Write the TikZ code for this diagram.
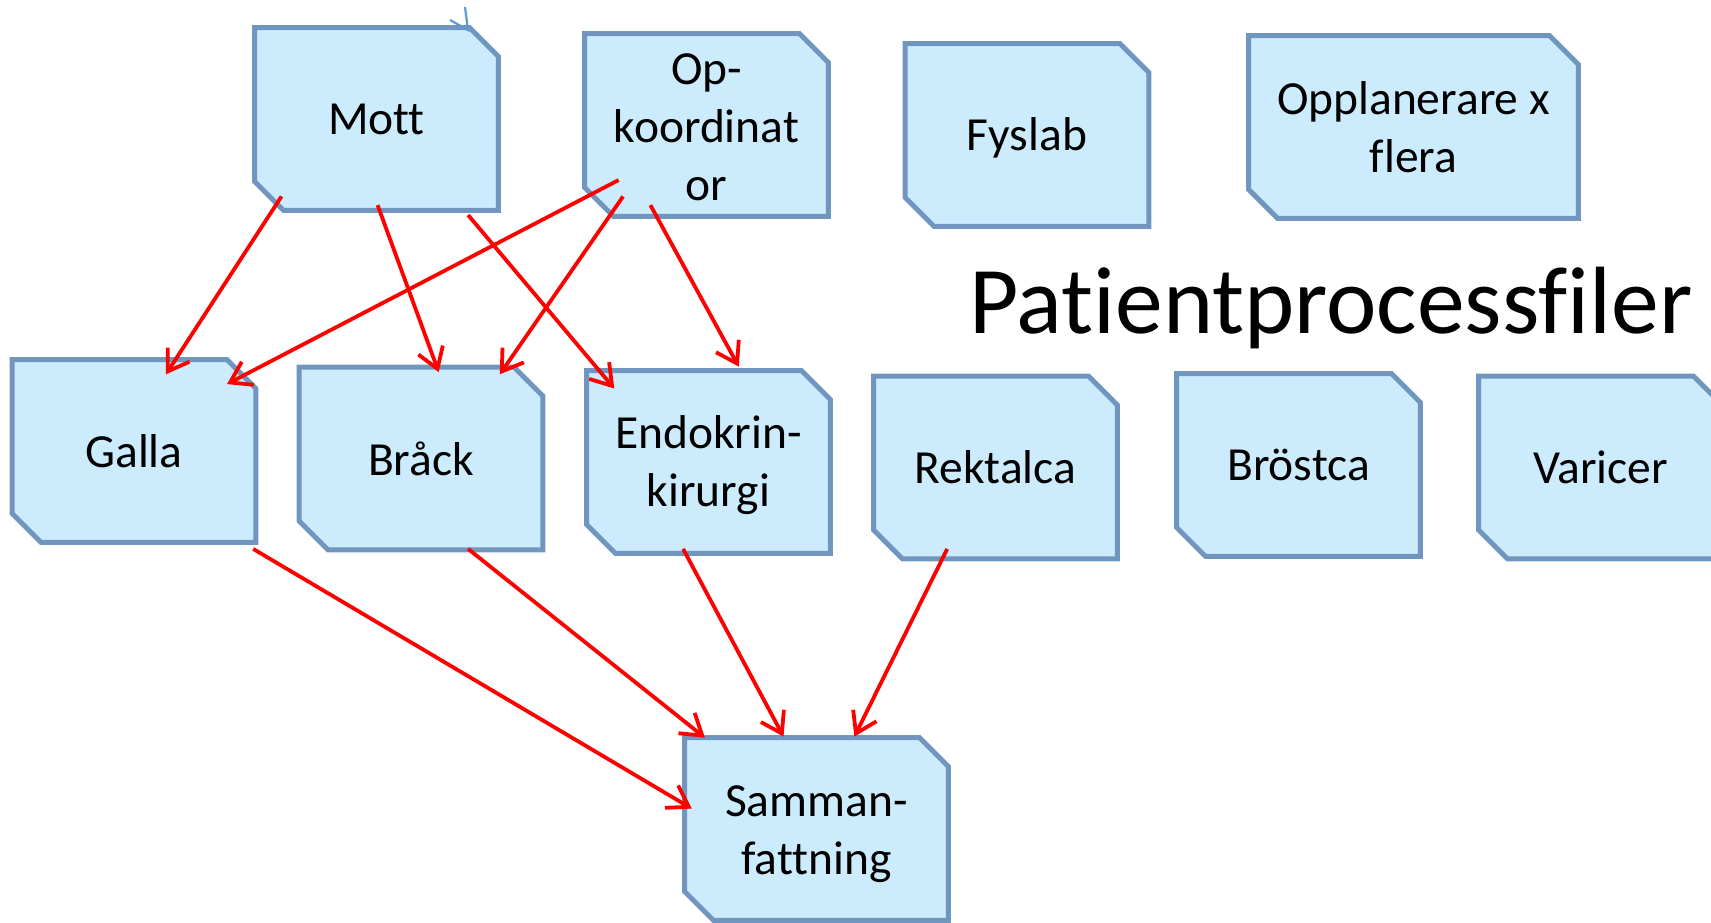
\documentclass[tikz,border=0pt]{standalone}
\usepackage{fontspec}
\setmainfont{Carlito}[Ligatures=NoCommon]
\usetikzlibrary{arrows.meta}
\definecolor{boxfill}{RGB}{204,235,252}
\definecolor{boxline}{RGB}{112,150,191}
\definecolor{markblue}{RGB}{91,155,213}
\pgfdeclarelayer{bg}
\pgfsetlayers{bg,main}
\newcommand\chamfbox[1]{%
  \begin{pgfonlayer}{bg}
  \draw[boxshape] (#1.north west) -- ([xshift=-14.5pt]#1.north east)
    -- ([yshift=-14.5pt]#1.north east) -- (#1.south east)
    -- ([xshift=14.5pt]#1.south west) -- ([yshift=14.5pt]#1.south west) -- cycle;
  \end{pgfonlayer}}
\begin{document}
\begin{tikzpicture}[x=0.5pt,y=-0.5pt,
  procbox/.style={rectangle, minimum width=121.5pt, minimum height=91pt, inner sep=0pt,
    align=center, font=\fontsize{23.75}{29}\selectfont},
  boxtext/.style={inner sep=0pt, align=center, font=\fontsize{23.75}{29}\selectfont},
  boxshape/.style={draw=boxline, fill=boxfill, line width=2.5pt, line join=miter},
  link/.style={draw=red, line width=1.9pt, -{Straight Barb[length=10pt,width=13pt]}},
  titlestyle/.style={font=\fontsize{47.8}{56}\selectfont, inner sep=0pt, anchor=base}]
\useasboundingbox (0,0) rectangle (1711,922);
\node[procbox] (mott) at (376.5,119) {Mott};
\node[procbox] (op) at (706.5,125) {};
\node[boxtext] (optext) at ([yshift=-1pt]op.center) {Op-\\koordinat\\or};
\node[procbox] (fys) at (1027,135) {};
\node[boxtext] (fystext) at ([yshift=-1.5pt]fys.center) {Fyslab};
\node[procbox, minimum width=164.5pt] (oppl) at (1413.5,127) {Opplanerare x\\flera};
\node[procbox] (galla) at (134,451) {Galla};
\node[procbox] (brack) at (421,458.5) {Bråck};
\node[procbox] (endo) at (708.5,462) {};
\node[boxtext] (endotext) at ([yshift=-1.5pt]endo.center) {Endokrin-\\kirurgi};
\node[procbox] (rekt) at (995.5,467.5) {Rektalca};
\node[procbox] (brost) at (1298.5,465) {Bröstca};
\node[procbox] (vari) at (1600.5,467.5) {Varicer};
\node[procbox, minimum width=131.5pt] (samm) at (816.5,829) {};
\node[boxtext] (sammtext) at ([yshift=-2.5pt]samm.center) {Samman-\\fattning};
\foreach \n in {mott,op,fys,oppl,galla,brack,endo,rekt,brost,vari,samm}{\chamfbox{\n}}
\node[titlestyle] (title) at (1331,333) {Patientprocessfiler};
% connectors
\draw[link] ([shift={(-95,77.4)}]mott.center) -- ([shift={(31.9,-76.7)}]galla.center);
\draw[link] ([shift={(1.1,86.1)}]mott.center) -- ([shift={(17.7,-86.4)}]brack.center);
\draw[link] ([shift={(91.6,96)}]mott.center) -- ([shift={(-94.2,-73.5)}]endo.center);
\draw[link] ([shift={(-87.8,55)}]op.center) -- ([shift={(93,-66.9)}]galla.center);
\draw[link] ([shift={(-83.4,71.4)}]op.center) -- ([shift={(78.8,-84.2)}]brack.center);
\draw[link] ([shift={(-56.1,80.1)}]op.center) -- ([shift={(30.2,-95.4)}]endo.center);
\draw[link] ([shift={(119.2,97.9)}]galla.center) -- ([shift={(-124.7,-20.4)}]samm.center);
\draw[link] ([shift={(47.1,90.4)}]brack.center) -- ([shift={(-111.6,-91.3)}]samm.center);
\draw[link] ([shift={(-25.4,86.9)}]endo.center) -- ([shift={(-33,-92.4)}]samm.center);
\draw[link] ([shift={(-48.3,81.4)}]rekt.center) -- ([shift={(37.9,-92.4)}]samm.center);
% small blue mark
\coordinate (tick) at (468,30);
\draw[markblue, line width=1.1pt] (450,20) -- (tick) -- (465,7);
\end{tikzpicture}
\end{document}
